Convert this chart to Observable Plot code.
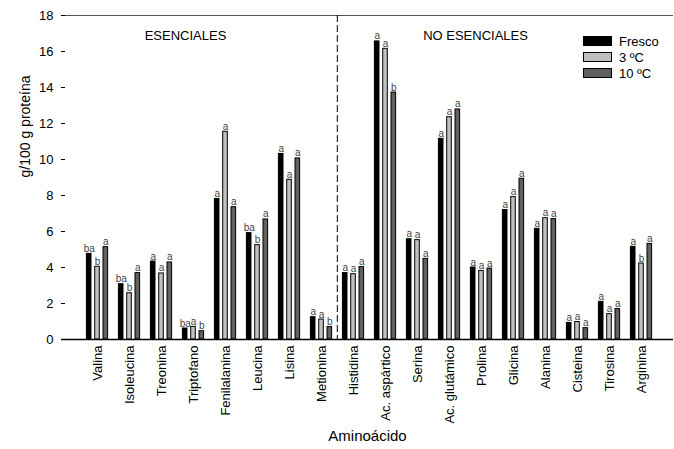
<!DOCTYPE html>
<html>
<head>
<meta charset="utf-8">
<script src="https://cdn.jsdelivr.net/npm/d3@7"></script>
<script src="https://cdn.jsdelivr.net/npm/@observablehq/plot@0.6"></script>
<style>
  body { margin: 0; background: #fff; font-family: "Liberation Sans", Arial, sans-serif; }
  #chart { position: relative; width: 674px; height: 449px; }
  .legend { position: absolute; left: 583px; top: 33px; font-size: 13px; color: #000; }
  .legend .row { display: flex; align-items: center; height: 16px; }
  .legend .sw { box-sizing: border-box; width: 29px; height: 10px; border: 1px solid #000; margin-right: 7px; }
</style>
</head>
<body>
<div id="chart"></div>
<script>
// Amino acid profile (g/100 g protein) for fresh product and storage at 3 ºC and 10 ºC
const aminoacidos = [
  "Valina", "Isoleucina", "Treonina", "Triptofano", "Fenilalanina", "Leucina", "Lisina", "Metionina",
  "Histidina", "Ac. aspártico", "Serina", "Ac. glutámico", "Prolina", "Glicina", "Alanina", "Cisteina", "Tirosina", "Arginina"
];
const series = ["Fresco", "3 ºC", "10 ºC"];
const colores = ["#000000", "#c0c0c0", "#606060"];

const fresco = [4.76, 3.07, 4.33, 0.61, 7.81, 5.91, 10.31, 1.24, 3.69, 16.56, 5.57, 11.15, 4.00, 7.19, 6.15, 0.92, 2.09, 5.15];
const frio3  = [4.04, 2.57, 3.67, 0.70, 11.54, 5.24, 8.87, 1.11, 3.63, 16.15, 5.52, 12.35, 3.81, 7.91, 6.74, 0.97, 1.41, 4.22];
const frio10 = [5.13, 3.69, 4.28, 0.46, 7.35, 6.67, 10.06, 0.69, 4.02, 13.72, 4.48, 12.78, 3.94, 8.93, 6.69, 0.63, 1.69, 5.31];

// Significance letters
const letrasFresco = ["ba", "ba", "a", "ba", "a", "ba", "a", "a", "a", "a", "a", "a", "a", "a", "a", "a", "a", "a"];
const letras3      = ["b", "b", "a", "a", "a", "b", "a", "a", "a", "a", "a", "a", "a", "a", "a", "a", "a", "b"];
const letras10     = ["a", "a", "a", "b", "a", "a", "a", "b", "a", "b", "a", "a", "a", "a", "a", "a", "a", "a"];

const yTicks = [0, 2, 4, 6, 8, 10, 12, 14, 16, 18];

const valores = [fresco, frio3, frio10];
const letras = [letrasFresco, letras3, letras10];

const filas = series.map((s, k) => aminoacidos.map((a, i) => ({
  aminoacido: a, serie: s, valor: valores[k][i], letra: letras[k][i]
})));

// Placement of the three bars inside each amino acid band
const insets = [[5.4, 22], [13.7, 13.7], [22, 5.4]];
const desplaz = [-8.3, 0, 8.3];
const paso = 32.4;

const plot = Plot.plot({
  width: 674,
  height: 449,
  marginTop: 15,
  marginBottom: 110,
  marginLeft: 61,
  marginRight: 1,
  style: { fontFamily: "'Liberation Sans', Arial, sans-serif", fontSize: "13px", background: "white", overflow: "visible" },
  x: { domain: aminoacidos, range: [77.5, 77.5 + paso * aminoacidos.length], padding: 0 },
  y: { domain: [0, 18] },
  marks: [
    ...filas.map((d, k) => Plot.barY(d, {
      x: "aminoacido", y: "valor", fill: colores[k], stroke: "#000", strokeWidth: 1,
      insetLeft: insets[k][0], insetRight: insets[k][1]
    })),
    ...filas.map((d, k) => Plot.text(d, {
      x: "aminoacido", y: "valor", text: "letra", dx: desplaz[k], dy: -2,
      lineAnchor: "bottom", fontSize: 10, fill: "#444"
    })),
    Plot.ruleY([18], { stroke: "#555" }),
    Plot.ruleY([0], { stroke: "#000", strokeWidth: 1.3 }),
    Plot.ruleX(["Histidina"], { x: (d) => d, dx: -paso / 2, stroke: "#000", strokeDasharray: "7,3" }),
    Plot.axisY({ ticks: yTicks, tickSize: -4, tickPadding: 12, line: true, label: null, fontSize: 13 }),
    Plot.axisX({ tickRotate: -90, tickSize: 0, tickPadding: 6, label: null, fontSize: 13 }),
    Plot.text(["g/100 g proteína"], { frameAnchor: "left", rotate: -90, dx: -36, fontSize: 14 }),
    Plot.text(["Aminoácido"], { frameAnchor: "bottom", dy: 101, fontSize: 15 }),
    Plot.text([{ x: "Triptofano", t: "ESENCIALES" }], { x: "x", text: "t", frameAnchor: "top", dx: -8, dy: 15, fontSize: 13 }),
    Plot.text([{ x: "Prolina", t: "NO ESENCIALES" }], { x: "x", text: "t", frameAnchor: "top", dx: -6, dy: 15, fontSize: 13 })
  ]
});

const cont = document.getElementById("chart");
cont.appendChild(plot);

// Legend
const leyenda = document.createElement("div");
leyenda.className = "legend";
series.forEach((s, k) => {
  const fila = document.createElement("div");
  fila.className = "row";
  const sw = document.createElement("span");
  sw.className = "sw";
  sw.style.background = colores[k];
  const lab = document.createElement("span");
  lab.textContent = s;
  fila.appendChild(sw);
  fila.appendChild(lab);
  leyenda.appendChild(fila);
});
cont.appendChild(leyenda);
</script>
</body>
</html>
